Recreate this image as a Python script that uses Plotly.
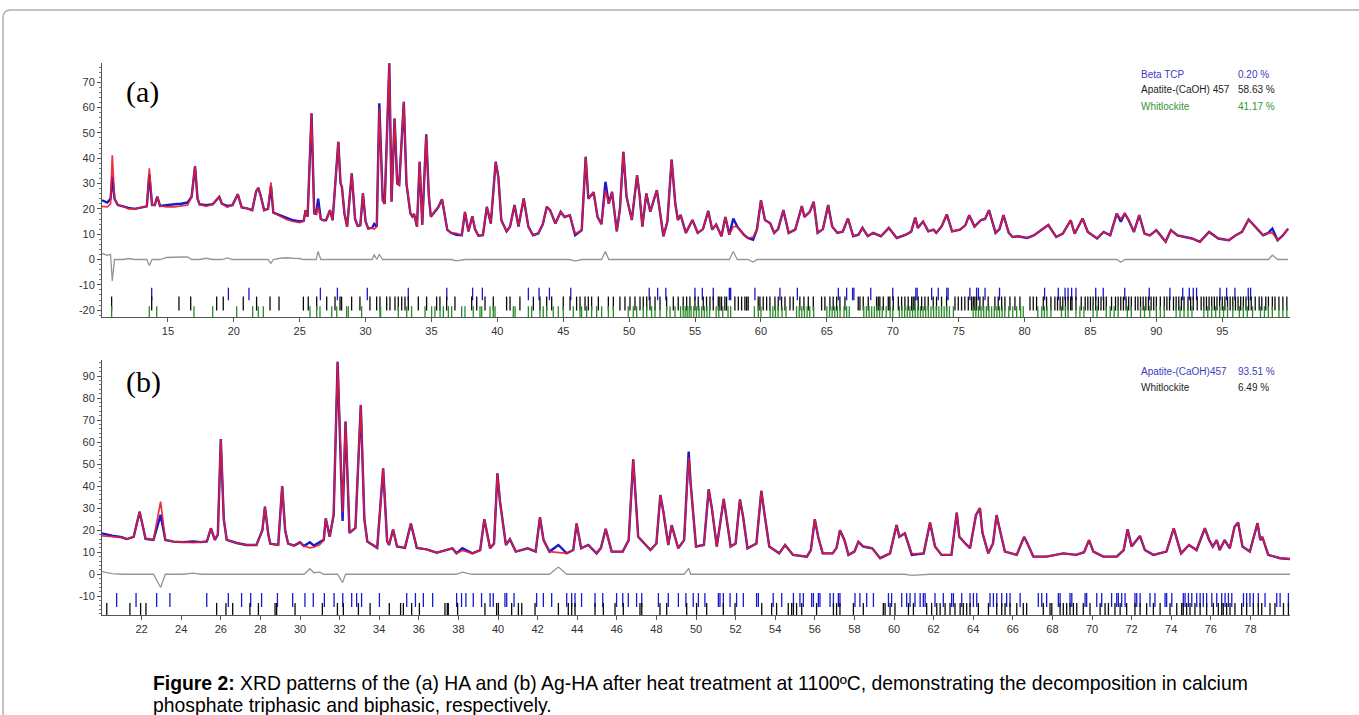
import plotly.graph_objects as go

W, H = 1359, 715

# ---------------- Panel (a): observed profile (2theta, intensity) ----------------
obs_a_x = [10.0, 10.4, 10.65, 10.78, 10.95, 11.2, 11.6, 12.0, 12.5, 13.0, 13.4, 13.59, 13.8, 14.0, 14.2, 14.4,
           14.9, 15.5, 16.0, 16.5, 16.8, 17.06, 17.25, 17.4, 17.9, 18.4, 18.9, 19.1, 19.5, 19.9, 20.3, 20.6,
           21.0, 21.4, 21.7, 21.86, 22.05, 22.3, 22.6, 22.82, 23.0, 23.5, 24.0, 24.5, 25.0, 25.3, 25.45, 25.6,
           25.9, 26.1, 26.25, 26.4, 26.6, 26.8, 27.0, 27.3, 27.5, 27.93, 28.1, 28.2, 28.4, 28.6, 28.95, 29.2,
           29.4, 29.6, 29.8, 30.0, 30.2, 30.5, 30.65, 30.85, 31.04, 31.3, 31.45, 31.8, 31.97, 32.2, 32.4, 32.55,
           32.9, 33.1, 33.4, 33.55, 33.68, 33.9, 34.1, 34.3, 34.6, 34.8, 34.95, 35.3, 35.5, 35.8, 36.0, 36.2,
           36.5, 36.9, 37.3, 37.54, 37.8, 38.1, 38.3, 38.56, 38.9, 39.2, 39.5, 39.87, 40.07, 40.3, 40.7, 40.96,
           41.3, 41.6, 42.0, 42.35, 42.7, 43.1, 43.45, 43.75, 44.0, 44.4, 44.8, 45.1, 45.5, 45.9, 46.4, 46.7,
           46.9, 47.3, 47.6, 47.9, 48.2, 48.45, 48.7, 49.06, 49.3, 49.56, 49.8, 50.2, 50.6, 50.8, 51.0, 51.3,
           51.6, 52.1, 52.6, 52.9, 53.22, 53.5, 53.7, 53.9, 54.3, 54.8, 55.2, 55.6, 56.0, 56.3, 56.6, 57.0,
           57.3, 57.6, 57.9, 58.2, 58.7, 59.0, 59.4, 59.7, 60.0, 60.3, 60.7, 61.0, 61.3, 61.7, 62.1, 62.6,
           63.1, 63.3, 63.7, 64.0, 64.3, 64.7, 65.1, 65.4, 65.8, 66.2, 66.6, 67.0, 67.4, 67.7, 68.1, 68.5,
           69.1, 69.7, 70.3, 71.0, 71.4, 71.7, 71.9, 72.3, 72.7, 73.1, 73.3, 73.7, 74.1, 74.5, 75.1, 75.5,
           75.8, 76.2, 76.7, 77.0, 77.3, 77.8, 78.1, 78.4, 78.8, 79.1, 79.5, 80.2, 80.7, 81.4, 81.8, 82.4,
           82.9, 83.5, 83.8, 84.4, 84.8, 85.5, 86.0, 86.5, 87.0, 87.3, 87.6, 87.9, 88.3, 88.7, 89.1, 89.5,
           90.0, 90.7, 91.1, 91.6, 92.2, 92.7, 93.3, 94.0, 94.7, 95.5, 96.0, 96.5, 97.0, 97.5, 98.1, 98.5,
           98.8, 99.2, 99.6, 100.0]
obs_a_y = [23.4, 22.5, 24.0, 32.7, 24.0, 21.5, 21.0, 20.4, 20.0, 20.6, 21.0, 33.6, 21.5, 21.5, 24.8, 21.2,
           21.6, 21.8, 22.0, 22.5, 24.8, 36.9, 24.0, 21.8, 21.5, 21.8, 24.8, 22.0, 21.2, 21.5, 25.8, 20.6,
           20.2, 19.5, 27.0, 28.3, 25.0, 19.5, 20.0, 29.0, 18.5, 17.5, 16.5, 15.5, 15.0, 15.2, 19.5, 16.9,
           57.7, 18.2, 18.0, 24.0, 16.0, 15.5, 15.5, 19.5, 15.5, 46.5, 30.0, 28.8, 18.0, 12.9, 34.0, 16.0,
           13.3, 13.5, 26.1, 15.0, 12.3, 12.5, 14.0, 13.0, 61.7, 23.4, 22.0, 77.5, 22.8, 55.7, 30.0, 29.5,
           62.3, 30.0, 18.2, 17.0, 18.0, 12.9, 38.6, 13.6, 49.4, 25.0, 16.9, 19.5, 20.5, 23.8, 17.0, 11.7,
           10.5, 9.8, 9.6, 18.8, 11.1, 17.1, 12.0, 9.4, 9.6, 20.8, 14.2, 38.6, 32.7, 15.5, 11.1, 13.0,
           21.5, 13.0, 24.1, 13.0, 9.6, 10.3, 14.0, 20.8, 19.5, 14.2, 18.8, 16.8, 17.5, 9.6, 11.6, 40.6,
           24.0, 26.6, 16.8, 14.0, 30.7, 22.0, 26.7, 11.1, 20.0, 42.5, 24.8, 15.6, 33.3, 24.8, 13.0, 26.1,
           18.9, 27.4, 9.2, 15.0, 39.5, 22.0, 15.6, 17.6, 10.5, 15.6, 10.5, 12.0, 19.2, 11.8, 13.8, 9.2,
           16.8, 9.8, 16.2, 13.0, 9.8, 8.5, 7.8, 12.0, 23.4, 15.6, 14.3, 10.5, 12.0, 19.5, 10.5, 11.8,
           21.1, 16.8, 18.8, 22.8, 10.5, 12.0, 21.5, 13.0, 10.5, 11.0, 16.2, 9.2, 9.8, 12.5, 9.2, 10.5,
           9.2, 12.5, 8.5, 9.8, 11.0, 16.6, 12.5, 15.0, 11.1, 11.8, 10.5, 13.0, 17.8, 11.1, 11.8, 13.5,
           17.5, 13.0, 15.6, 16.0, 19.5, 10.5, 12.0, 17.5, 10.5, 8.9, 9.2, 8.5, 9.5, 12.2, 13.6, 8.9,
           10.2, 15.5, 10.2, 16.2, 10.9, 8.3, 10.9, 9.6, 18.2, 14.9, 18.2, 15.5, 10.9, 17.5, 10.2, 9.5,
           11.6, 7.0, 11.6, 9.5, 8.9, 8.3, 7.0, 10.9, 8.3, 7.6, 9.5, 10.9, 15.8, 12.9, 9.6, 10.5,
           12.2, 7.6, 9.5, 12.2]
# calculated profile: equal to observed except at these 2theta values
calc_a_override = {10.0: 21.0, 10.4: 20.8, 10.65: 22.0, 10.78: 41.2, 12.0: 20.0, 13.59: 36.0, 14.9: 20.8,
                   15.5: 20.8, 16.0: 21.0, 16.5: 21.5, 17.9: 21.0, 19.5: 20.6, 22.82: 30.5, 23.5: 17.0,
                   24.0: 15.8, 24.5: 15.0, 25.0: 14.6, 26.4: 20.8, 30.65: 12.0, 31.04: 59.7, 36.9: 10.3,
                   45.9: 10.2, 48.2: 27.5, 57.9: 13.0, 59.4: 8.8, 87.3: 16.0, 98.8: 10.5}

# reflection markers (2theta) panel (a)
beta_tcp_a = [13.77, 19.59, 21.15, 26.57, 27.86, 30.13, 33.24, 36.16, 38.12, 38.86, 42.35, 43.16, 43.95, 45.57,
              51.52, 52.16, 52.78, 54.99, 55.55, 56.38, 57.6, 57.7, 59.54, 61.44, 62.76, 65.87, 66.5, 66.95,
              67.05, 68.33, 70.0, 71.75, 71.85, 72.95, 73.45, 74.1, 74.2, 75.85, 76.36, 76.5, 77.0, 78.1,
              81.52, 82.56, 83.07, 83.3, 83.57, 83.9, 85.4, 85.97, 87.6, 89.46, 91.03, 92.0, 92.5, 92.8,
              93.05, 94.83, 95.33, 95.96, 96.97, 97.15]
apatite_a = [10.73, 13.77, 15.84, 16.73, 18.7, 19.2, 20.72, 21.73, 22.75, 23.43, 25.28, 25.65, 26.29, 27.05,
             27.68, 28.06, 28.18, 28.94, 29.57, 30.33, 30.84, 31.09, 31.6, 31.85, 32.23, 32.48, 32.74, 32.99,
             33.24, 34.0, 34.63, 35.39, 35.64, 36.15, 36.78, 38.05, 38.43, 39.06, 39.69, 40.7, 40.96, 41.71,
             42.73, 43.23, 43.74, 44.12, 45.0, 45.51, 46.01, 46.27, 46.65, 46.9, 47.15, 47.66, 48.42, 48.8,
             49.3, 49.68, 50.06, 50.44, 50.82, 51.07, 51.33, 51.58, 51.96, 52.34, 52.84, 53.35, 53.72, 54.1,
             54.36, 54.61, 54.99, 55.24, 55.62, 55.87, 56.13, 56.38, 56.76, 56.88, 57.01, 57.26, 57.39, 58.02,
             58.28, 58.53, 58.78, 58.91, 59.03, 59.79, 59.92, 60.17, 60.43, 60.68, 61.06, 61.31, 61.56, 61.82,
             62.2, 62.45, 62.95, 63.26, 63.59, 63.97, 64.6, 64.85, 65.23, 65.48, 65.74, 65.99, 66.37, 67.38,
             67.51, 67.76, 68.14, 68.77, 68.9, 69.02, 69.28, 69.66, 69.78, 70.04, 70.42, 70.67, 70.92, 71.17,
             71.43, 71.55, 71.68, 71.93, 72.19, 72.44, 72.69, 73.07, 73.32, 73.7, 74.08, 74.72, 74.97, 75.22,
             75.47, 75.73, 75.98, 76.11, 76.23, 76.36, 76.61, 76.86, 77.24, 77.75, 78.0, 78.26, 78.51, 78.89,
             79.27, 79.65, 80.41, 80.66, 80.91, 81.42, 81.67, 82.0, 82.3, 82.5, 82.7, 82.9, 83.1, 83.3, 83.5,
             83.6, 83.9, 84.3, 84.6, 84.8, 85.0, 85.2, 85.4, 85.6, 85.8, 86.0, 86.2, 86.6, 86.9, 87.1, 87.3,
             87.5, 87.7, 87.9, 88.1, 88.4, 88.6, 88.8, 89.0, 89.2, 89.4, 89.6, 89.8, 90.0, 90.3, 90.6, 90.8,
             91.0, 91.3, 91.5, 91.7, 91.9, 92.1, 92.4, 92.6, 92.8, 93.1, 93.4, 93.6, 93.8, 94.0, 94.2, 94.4,
             94.6, 94.8, 95.0, 95.2, 95.4, 95.6, 95.8, 96.0, 96.2, 96.4, 96.6, 96.8, 97.0, 97.2, 97.5, 97.8,
             98.0, 98.3, 98.5, 98.8, 99.0, 99.3, 99.6, 99.9]
whitlockite_a = [10.73, 13.59, 14.15, 16.98, 18.4, 20.22, 21.43, 21.86, 22.24, 25.78, 26.29, 26.54, 27.43,
                 27.81, 28.56, 28.69, 29.7, 31.09, 31.14, 32.48, 33.12, 33.49, 34.51, 35.01, 35.26, 35.65,
                 35.9, 36.28, 36.53, 37.29, 37.54, 38.17, 38.68, 38.81, 39.44, 39.69, 39.82, 41.21, 41.34,
                 42.35, 42.6, 43.23, 43.48, 43.74, 44.24, 44.62, 45.0, 45.76, 46.27, 46.39, 46.77, 47.15,
                 47.53, 47.91, 48.42, 48.8, 49.93, 50.31, 50.57, 51.07, 51.33, 51.7, 51.96, 52.34, 52.84,
                 53.1, 53.48, 53.9, 54.1, 54.25, 54.4, 54.55, 54.7, 54.9, 55.1, 55.3, 55.5, 55.7, 55.9, 56.1,
                 56.6, 56.8, 57.1, 57.5, 57.7, 59.5, 59.8, 60.0, 60.7, 60.9, 61.1, 61.3, 61.6, 61.9, 62.7,
                 62.9, 63.1, 63.3, 63.5, 63.7, 64.0, 65.0, 65.2, 65.4, 65.6, 65.8, 66.0, 66.3, 66.5, 66.7,
                 67.8, 68.0, 68.2, 68.4, 68.6, 68.8, 69.0, 69.2, 69.5, 69.8, 70.0, 70.5, 70.7, 70.9, 71.1,
                 71.3, 71.5, 71.7, 71.9, 72.1, 72.3, 72.5, 72.7, 72.9, 73.1, 73.3, 73.5, 73.7, 73.9, 74.1,
                 74.3, 74.6, 76.1, 76.3, 76.5, 76.7, 76.9, 77.1, 77.3, 77.5, 77.7, 77.9, 78.1, 78.3, 78.5,
                 78.8, 79.1, 79.4, 79.7, 79.9, 81.0, 81.3, 81.5, 81.7, 82.0, 82.8, 83.1, 83.3, 83.9, 84.2,
                 84.5, 85.2, 85.5, 86.2, 86.5, 86.8, 87.1, 87.8, 88.1, 88.8, 89.1, 89.5, 90.0, 90.3, 90.6,
                 91.5, 91.8, 92.1, 92.4, 92.7, 93.6, 93.9, 94.2, 94.5, 94.8, 95.1, 95.4, 95.8, 96.3, 96.6,
                 96.9, 97.3, 97.9, 98.2, 98.5, 98.8, 99.3, 99.6, 99.9]

# ---------------- Panel (b) ----------------
obs_b_x = [20.0, 20.5, 21.0, 21.25, 21.6, 21.9, 22.2, 22.6, 22.96, 23.2, 23.6, 24.1, 24.6, 25.0, 25.3, 25.5,
           25.7, 25.85, 26.0, 26.15, 26.3, 26.8, 27.3, 27.8, 28.1, 28.23, 28.4, 28.5, 28.9, 29.1, 29.25, 29.4,
           29.7, 30.0, 30.2, 30.5, 30.7, 31.0, 31.2, 31.3, 31.5, 31.7, 31.9, 32.15, 32.3, 32.5, 32.8, 33.07,
           33.25, 33.4, 33.9, 34.2, 34.4, 34.5, 34.7, 34.9, 35.3, 35.6, 35.9, 36.4, 36.9, 37.1, 37.7, 37.9,
           38.2, 38.7, 39.1, 39.31, 39.6, 39.8, 39.97, 40.1, 40.4, 40.6, 40.9, 41.5, 41.9, 42.12, 42.3, 42.6,
           43.05, 43.47, 43.8, 43.97, 44.2, 44.56, 44.98, 45.2, 45.44, 45.74, 46.3, 46.6, 46.83, 47.08, 47.37,
           47.7, 48.0, 48.2, 48.35, 48.6, 48.77, 49.1, 49.4, 49.63, 49.73, 50.0, 50.4, 50.64, 50.8, 51.05,
           51.4, 51.55, 51.75, 52.0, 52.22, 52.38, 52.6, 53.05, 53.3, 53.45, 53.7, 54.2, 54.5, 54.9, 55.6,
           55.8, 56.0, 56.17, 56.4, 56.9, 57.1, 57.27, 57.5, 57.7, 58.0, 58.2, 58.45, 58.9, 59.3, 59.8,
           60.13, 60.27, 60.55, 60.9, 61.5, 61.82, 62.07, 62.4, 62.9, 63.17, 63.3, 63.6, 63.84, 64.14, 64.34,
           64.47, 64.76, 65.0, 65.18, 65.35, 65.6, 66.2, 66.57, 66.74, 67.04, 67.7, 68.2, 68.55, 69.2, 69.6,
           69.85, 70.07, 70.57, 71.25, 71.6, 71.8, 72.0, 72.42, 72.67, 73.1, 73.76, 74.13, 74.27, 74.5, 74.9,
           75.28, 75.7, 75.92, 76.1, 76.3, 76.45, 76.7, 76.96, 77.2, 77.38, 77.6, 77.97, 78.36, 78.5, 78.6,
           78.9, 79.5, 80.0]
obs_b_y = [18.6, 17.5, 16.8, 16.0, 17.0, 28.4, 16.1, 15.6, 27.0, 15.6, 14.8, 14.6, 14.9, 14.6, 14.9, 20.9,
           15.6, 18.0, 61.4, 25.0, 15.6, 14.2, 13.3, 13.3, 20.0, 30.7, 18.0, 13.9, 13.3, 40.1, 20.0, 13.9,
           13.0, 14.5, 12.8, 14.5, 13.0, 14.5, 15.6, 25.4, 17.0, 27.0, 96.5, 24.2, 69.3, 18.8, 21.0, 76.9,
           25.0, 14.9, 12.0, 48.1, 15.0, 13.3, 20.3, 12.6, 12.0, 23.0, 12.0, 11.3, 9.8, 10.3, 11.8, 9.5,
           11.8, 9.5, 11.0, 25.0, 11.8, 14.0, 45.8, 33.0, 13.3, 15.9, 10.3, 11.8, 10.3, 25.9, 15.5, 10.3,
           13.3, 9.5, 11.0, 23.1, 11.8, 13.3, 9.5, 12.0, 20.6, 10.3, 10.3, 15.5, 52.2, 17.0, 14.3,
           11.0, 14.0, 36.0, 28.5, 13.3, 22.3, 11.8, 15.5, 55.7, 41.3, 12.6, 13.3, 38.6, 30.0, 12.6,
           34.2, 25.2, 12.6, 14.0, 34.0, 26.0, 11.8, 14.0, 37.9, 28.0, 12.6, 9.5, 13.3, 8.8, 8.0,
           11.0, 25.0, 17.0, 9.5, 9.5, 12.0, 20.0, 15.5, 8.8, 10.3, 14.7, 12.6, 11.8, 7.3, 9.5,
           22.4, 17.0, 18.6, 8.8, 9.5, 23.5, 12.6, 8.8, 8.8, 28.0, 17.0, 14.0, 11.8, 26.9, 30.0,
           18.7, 9.5, 14.0, 26.9, 20.0, 10.3, 8.8, 17.0, 14.0, 8.0, 8.0, 9.0, 9.5, 8.8, 10.0,
           15.5, 10.3, 8.0, 8.0, 11.0, 20.4, 12.6, 17.4, 11.0, 8.8, 10.3, 20.9, 16.4, 9.5, 13.3,
           11.0, 20.9, 15.5, 12.6, 15.5, 11.0, 15.5, 11.8, 21.6, 23.5, 12.6, 10.3, 23.2, 15.5, 17.0,
           8.8, 7.3, 6.9]
calc_b_override = {20.0: 17.4, 20.5: 17.2, 22.96: 33.0, 30.5: 12.0, 30.7: 12.3, 31.0: 13.5, 32.15: 28.0,
                   43.05: 10.0, 49.63: 53.0, 24.6: 14.4, 38.2: 10.8, 60.9: 9.3}

apatite_b = [20.74, 21.72, 22.76, 23.43, 25.29, 26.38, 27.05, 27.51, 28.06, 28.86, 29.63, 30.25, 30.67, 31.23,
             31.72, 32.16, 32.61, 32.86, 33.11, 34.01, 35.39, 35.83, 36.23, 36.7, 37.91, 38.16, 38.38, 38.75,
             39.17, 39.6, 39.76, 40.35, 40.44, 40.81, 41.95, 42.29, 42.71, 43.47, 43.72, 43.89, 44.22, 44.9,
             45.29, 45.99, 46.3, 46.58, 47.0, 47.26, 48.1, 48.6, 49.11, 49.49, 49.86, 50.12, 50.45, 51.13,
             51.21, 51.38, 51.72, 52.05, 52.39, 53.06, 53.15, 53.9, 54.33, 54.92, 55.25, 55.42, 55.84, 55.93,
             56.18, 56.26, 56.77, 56.94, 57.19, 57.27, 58.03, 58.28, 58.62, 58.96, 59.72, 59.88, 60.39,
             60.64, 60.81, 61.06, 61.32, 61.48, 61.57, 62.07, 62.49, 62.91, 63.0, 63.42, 63.84, 64.01, 64.18,
             64.85, 65.02, 65.19, 65.44, 65.69, 65.86, 66.37, 67.29, 67.46, 67.71, 68.3, 68.39, 68.89, 68.98,
             69.65, 69.73, 70.24, 70.49, 70.99, 71.25, 71.33, 71.5, 71.67, 72.17, 72.26, 72.43, 72.93, 73.18,
             73.69, 73.77, 74.03, 74.61, 74.7, 74.87, 75.04, 75.29, 75.46, 75.62, 75.79, 76.05, 76.3, 76.55,
             76.72, 76.89, 77.06, 77.65, 77.81, 77.98, 78.15, 78.4, 78.74, 79.33, 79.5, 79.92]
whitlockite_b = [20.24, 21.41, 21.95, 22.22, 25.79, 26.26, 26.6, 27.47, 27.9, 28.74, 28.82, 29.75, 31.13,
                 31.89, 32.19, 32.95, 33.54, 34.51, 35.08, 35.22, 35.64, 36.03, 37.32, 37.44, 37.49, 37.96,
                 39.34, 39.93, 40.02, 40.69, 41.03, 41.2, 41.87, 43.05, 43.55, 43.72, 43.89, 44.9, 45.32,
                 45.91, 46.33, 47.17, 47.26, 48.18, 48.52, 49.53, 50.03, 50.54, 51.38, 51.97, 53.32, 53.82,
                 54.07, 54.66, 54.83, 54.92, 55.08, 55.34, 56.09, 56.94, 57.1, 57.27, 57.95, 58.45, 59.46,
                 59.55, 59.8, 60.05, 60.73, 60.98, 61.65, 61.9, 62.16, 62.33, 62.58, 62.83, 63.08, 63.34,
                 63.5, 63.67, 63.84, 64.26, 64.77, 65.19, 65.44, 65.61, 65.86, 66.2, 66.53, 66.7, 67.54,
                 67.88, 67.97, 68.39, 68.55, 68.72, 68.89, 69.06, 69.23, 69.56, 69.9, 70.41, 70.66, 70.83,
                 71.16, 71.42, 71.75, 72.17, 72.43, 72.76, 73.1, 73.44, 73.94, 74.28, 74.53, 74.61, 74.78,
                 74.95, 75.2, 75.46, 75.79, 76.13, 76.38, 76.55, 76.63, 76.8, 76.97, 77.22, 77.56, 77.81,
                 78.15, 78.4, 78.57, 78.99, 79.24, 79.67, 79.92]

ticks_a = [-20, -10, 0, 10, 20, 30, 40, 50, 60, 70]
ticks_b = [-10, 0, 10, 20, 30, 40, 50, 60, 70, 80, 90]
xticks_a = [15, 20, 25, 30, 35, 40, 45, 50, 55, 60, 65, 70, 75, 80, 85, 90, 95]
xticks_b = [22, 24, 26, 28, 30, 32, 34, 36, 38, 40, 42, 44, 46, 48, 50, 52, 54, 56, 58, 60, 62, 64, 66, 68,
            70, 72, 74, 76, 78]

BLUE = "rgb(25,25,205)"
RED = "rgba(235,25,45,0.9)"
GRAY = "rgb(150,150,150)"
GREEN = "rgb(40,140,40)"
BLACK = "rgb(10,10,10)"

fig = go.Figure()


def add_profile(xs, obs, over, xa, ya):
    calc = [over.get(x, y) for x, y in zip(xs, obs)]
    diff = [o - c for o, c in zip(obs, calc)]
    fig.add_trace(go.Scatter(x=xs, y=diff, mode="lines", line=dict(color=GRAY, width=1.3),
                             xaxis=xa, yaxis=ya, hoverinfo="skip"))
    fig.add_trace(go.Scatter(x=xs, y=obs, mode="lines", line=dict(color=BLUE, width=2.4),
                             xaxis=xa, yaxis=ya))
    fig.add_trace(go.Scatter(x=xs, y=calc, mode="lines", line=dict(color=RED, width=1.7),
                             xaxis=xa, yaxis=ya))


def add_refl(pos, yc, color, size, xa, ya):
    fig.add_trace(go.Scatter(x=pos, y=[yc] * len(pos), mode="markers",
                             marker=dict(symbol="line-ns", size=size, color=color,
                                         line=dict(color=color, width=1.3)),
                             xaxis=xa, yaxis=ya, hoverinfo="skip"))


add_profile(obs_a_x, obs_a_y, calc_a_override, "x", "y")
add_refl(beta_tcp_a, -13.6, BLUE, 9, "x", "y")
add_refl(apatite_a, -17.4, BLACK, 10, "x", "y")
add_refl(whitlockite_a, -21.2, GREEN, 10, "x", "y")

add_profile(obs_b_x, obs_b_y, calc_b_override, "x2", "y2")
add_refl(apatite_b, -11.7, BLUE, 10, "x2", "y2")
add_refl(whitlockite_b, -16.2, BLACK, 10, "x2", "y2")

X0, X1 = 102 / W, 1290 / W
tickfont = dict(family="Liberation Sans, Arial, sans-serif", size=11, color="#333")
axis_common = dict(showline=True, linecolor="#555", linewidth=1, ticks="outside", ticklen=4,
                   tickcolor="#555", showgrid=False, zeroline=False, tickfont=tickfont)

fig.update_layout(
    width=W, height=H, margin=dict(l=0, r=0, t=0, b=0),
    paper_bgcolor="white", plot_bgcolor="white", showlegend=False,
    xaxis=dict(domain=[X0, X1], range=[10, 100.14], anchor="y", tickmode="array",
               tickvals=xticks_a, ticktext=[str(v) for v in xticks_a], **axis_common),
    yaxis=dict(domain=[1 - 317 / H, 1 - 63 / H], range=[-22.7, 77.6], anchor="x", tickmode="array",
               tickvals=ticks_a, ticktext=[str(v) for v in ticks_a],
               minor=dict(ticks="outside", ticklen=2, dtick=2, tickcolor="#777"), **axis_common),
    xaxis2=dict(domain=[X0, X1], range=[20, 80], anchor="y2", tickmode="array",
                tickvals=xticks_b, ticktext=[str(v) for v in xticks_b], **axis_common),
    yaxis2=dict(domain=[1 - 615 / H, 1 - 360 / H], range=[-18.5, 97.3], anchor="x2", tickmode="array",
                tickvals=ticks_b, ticktext=[str(v) for v in ticks_b],
                minor=dict(ticks="outside", ticklen=2, dtick=2, tickcolor="#777"), **axis_common),
)

ann = []
serif = dict(family="Liberation Serif, Times New Roman, serif", size=30, color="black")
ann.append(dict(x=124 / W, y=1 - 92 / H, xref="paper", yref="paper", text="(a)", showarrow=False,
                xanchor="left", yanchor="middle", font=serif))
ann.append(dict(x=124 / W, y=1 - 382 / H, xref="paper", yref="paper", text="(b)", showarrow=False,
                xanchor="left", yanchor="middle", font=serif))

leg_font = "Liberation Sans, Arial, sans-serif"
legend_a = [("Beta TCP", "0.20 %", "rgb(60,60,190)", 74),
            ("Apatite-(CaOH) 457", "58.63 %", "rgb(30,30,30)", 90),
            ("Whitlockite", "41.17 %", "rgb(50,150,50)", 106)]
legend_b = [("Apatite-(CaOH)457", "93.51 %", "rgb(60,60,190)", 371),
            ("Whitlockite", "6.49 %", "rgb(30,30,30)", 387)]
for name, val, col, yy in legend_a + legend_b:
    ann.append(dict(x=1139 / W, y=1 - yy / H, xref="paper", yref="paper", text=name, showarrow=False,
                    xanchor="left", yanchor="middle", font=dict(family=leg_font, size=10, color=col)))
    ann.append(dict(x=1236 / W, y=1 - yy / H, xref="paper", yref="paper", text=val, showarrow=False,
                    xanchor="left", yanchor="middle", font=dict(family=leg_font, size=10, color=col)))

caption_lines = [("<b>Figure 2:</b> XRD patterns of the (a) HA and (b) Ag-HA after heat treatment at 1100ºC, "
                  "demonstrating the decomposition in calcium", 683),
                 ("phosphate triphasic and biphasic, respectively.", 705)]
for txt, yy in caption_lines:
    ann.append(dict(x=151 / W, y=1 - yy / H, xref="paper", yref="paper", text=txt, showarrow=False,
                    xanchor="left", yanchor="middle", align="left",
                    font=dict(family="Liberation Sans, Arial, sans-serif", size=19.35, color="black")))
fig.update_layout(annotations=ann)


# page frame (rounded border at the top-left)
def px(xp, yp):
    return f"{xp / W:.5f},{1 - yp / H:.5f}"


fig.add_shape(type="path", xref="paper", yref="paper",
              path=f"M {px(3, 715)} L {px(3, 18)} Q {px(3, 10)} {px(11, 10)} L {px(1359, 10)}",
              line=dict(color="rgb(175,175,175)", width=1.5))

fig.write_html("out.html", config={"displayModeBar": False},
               post_script="document.body.style.margin='0px';")
